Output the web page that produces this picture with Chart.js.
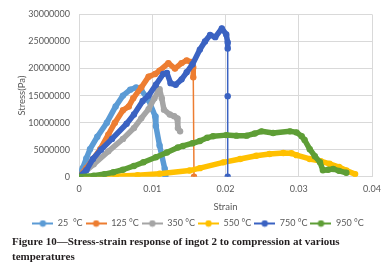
<!DOCTYPE html>
<html>
<head>
<meta charset="utf-8">
<script src="https://cdn.jsdelivr.net/npm/chart.js@4/dist/chart.umd.min.js"></script>
<style>
  html, body { margin: 0; padding: 0; background: #fff; }
  #wrap { position: relative; width: 392px; height: 274px; overflow: hidden; }
  #box { position: absolute; left: 0; top: 0; width: 392px; height: 238px; }
  #caption {
    position: absolute; left: 12px; top: 234px; width: 375px;
    font-family: "Liberation Serif", serif; font-weight: bold; font-size: 11px;
    line-height: 15px; color: #231f20;
  }
</style>
</head>
<body>
<div id="wrap">
  <div id="box"><canvas id="c"></canvas></div>
  <div id="caption">Figure 10—Stress-strain response of ingot 2 to compression at various temperatures</div>
</div>
<script>
// values (strain, stress in Pa)
const labels = ['25  \u00B0C', '125 \u00B0C', '350 \u00B0C', '550 \u00B0C', '750 \u00B0C', '950 \u00B0C'];
const colors = ['#5b9bd5', '#ed7d31', '#a5a5a5', '#ffc000', '#3a62c2', '#5e9e36'];

const strain25 = [0, 0.0005, 0.001, 0.0015, 0.0025, 0.0038, 0.005, 0.006, 0.007, 0.0078, 0.0085, 0.0095, 0.0104, 0.0105, 0.011, 0.0117, 0.0118];
const stress25 = [0, 1.6e6, 3.4e6, 5.1e6, 7.4e6, 10.0e6, 13.0e6, 15.0e6, 16.1e6, 16.5e6, 16.0e6, 14.2e6, 11.2e6, 9.4e6, 5.8e6, 1.5e6, 0];

const strain125 = [0, 0.001, 0.002, 0.0029, 0.004, 0.0049, 0.006, 0.0068, 0.0074, 0.0085, 0.0095, 0.0104, 0.011, 0.0122, 0.0131, 0.014, 0.0147, 0.0153, 0.0156, 0.0156, 0.0157];
const stress125 = [0, 1.6e6, 3.4e6, 5.1e6, 7.8e6, 10.0e6, 12.3e6, 13.0e6, 14.5e6, 16.5e6, 18.5e6, 19.0e6, 19.6e6, 21.0e6, 20.0e6, 21.0e6, 21.5e6, 21.2e6, 20.2e6, 18.4e6, 0];

const strain350 = [0, 0.002, 0.004, 0.006, 0.0075, 0.0085, 0.0095, 0.0103, 0.0108, 0.011, 0.0113, 0.0116, 0.0124, 0.013, 0.0134, 0.0135, 0.0138];
const stress350 = [0, 2.3e6, 4.7e6, 7.0e6, 9.0e6, 10.8e6, 12.5e6, 14.5e6, 15.8e6, 16.2e6, 14.5e6, 12.4e6, 11.5e6, 11.2e6, 10.8e6, 9.0e6, 8.4e6];

const strain550 = [0, 0.005, 0.008, 0.011, 0.0151, 0.0165, 0.0197, 0.022, 0.0242, 0.026, 0.0279, 0.029, 0.0297, 0.0315, 0.033, 0.0342, 0.0355, 0.0365, 0.0377];
const stress550 = [0, 0.1e6, 0.3e6, 0.55e6, 1.15e6, 1.6e6, 2.67e6, 3.3e6, 3.9e6, 4.2e6, 4.4e6, 4.35e6, 4.0e6, 3.3e6, 2.9e6, 2.4e6, 1.8e6, 1.15e6, 0.5e6];

const strain750 = [0, 0.001, 0.0019, 0.003, 0.0045, 0.0065, 0.0075, 0.0087, 0.0095, 0.0105, 0.0115, 0.012, 0.0125, 0.0132, 0.014, 0.0147, 0.0155, 0.0165, 0.0172, 0.0179, 0.0186, 0.0195, 0.0201, 0.0203, 0.0203, 0.0203, 0.0203];
const stress750 = [0, 1.2e6, 3.3e6, 5.0e6, 7.0e6, 9.8e6, 11.5e6, 14.0e6, 15.0e6, 17.0e6, 19.0e6, 19.2e6, 17.3e6, 17.0e6, 18.0e6, 19.3e6, 20.8e6, 23.5e6, 25.0e6, 26.2e6, 25.8e6, 27.4e6, 26.3e6, 24.8e6, 23.7e6, 14.9e6, 0];

const strain950 = [0, 0.002, 0.0035, 0.0047, 0.006, 0.0075, 0.0088, 0.0105, 0.012, 0.0135, 0.0142, 0.0155, 0.0165, 0.0175, 0.0183, 0.0201, 0.0215, 0.0229, 0.024, 0.0249, 0.0265, 0.0288, 0.0297, 0.0304, 0.0308, 0.0315, 0.0322, 0.0329, 0.0333, 0.034, 0.0347, 0.0355, 0.0365];
const stress950 = [0, 0.2e6, 0.5e6, 0.85e6, 1.3e6, 2.0e6, 2.7e6, 3.6e6, 4.5e6, 5.4e6, 5.7e6, 6.2e6, 6.6e6, 7.2e6, 7.5e6, 7.7e6, 7.6e6, 7.6e6, 8.0e6, 8.4e6, 8.1e6, 8.4e6, 8.2e6, 7.5e6, 6.8e6, 5.1e6, 3.8e6, 2.7e6, 1.2e6, 1.3e6, 1.45e6, 1.1e6, 0.75e6];

const xTicks = [0, 0.01, 0.02, 0.03, 0.04];

const series = [
  [strain25, stress25], [strain125, stress125], [strain350, stress350],
  [strain550, stress550], [strain750, stress750], [strain950, stress950]
];

// the near vertical drops are drawn thin, like the sparse points in the original
function isDrop(data, i) {
  const a = data[i], b = data[i + 1];
  if (!a || !b) return false;
  return Math.abs(b.x - a.x) < 0.0002 && Math.abs(b.y - a.y) > 3e6;
}

// legend marker: short line with a dot
function legendMark(color) {
  const c = document.createElement('canvas');
  c.width = 21; c.height = 8;
  const g = c.getContext('2d');
  g.strokeStyle = color; g.lineWidth = 2;
  g.beginPath(); g.moveTo(0, 4); g.lineTo(21, 4); g.stroke();
  g.fillStyle = color;
  g.beginPath(); g.arc(10.5, 4, 3.2, 0, Math.PI * 2); g.fill();
  return c;
}
const marks = colors.map(legendMark);

const datasets = series.map((s, i) => {
  const data = s[0].map((x, k) => ({ x: x, y: s[1][k] }));
  return {
    label: labels[i],
    data: data,
    borderColor: colors[i],
    backgroundColor: colors[i],
    pointBackgroundColor: colors[i],
    pointBorderWidth: 0,
    pointRadius: 3.2,
    pointStyle: 'circle',
    borderWidth: 5.5,
    order: -i,
    segment: {
      borderWidth: ctx => isDrop(data, ctx.p0DataIndex) ? 1.5 : 5.5
    }
  };
});

Chart.defaults.font.family = 'Lato, "Liberation Sans", sans-serif';
Chart.defaults.color = '#595959';

new Chart(document.getElementById('c'), {
  type: 'line',
  data: { datasets: datasets },
  options: {
    responsive: true,
    maintainAspectRatio: false,
    animation: false,
    layout: { padding: { left: 24, right: 20, top: 8, bottom: 0 } },
    elements: { line: { tension: 0, borderJoinStyle: 'round', borderCapStyle: 'round' } },
    scales: {
      x: {
        type: 'linear', min: 0, max: 0.04,
        afterBuildTicks: axis => { axis.ticks = xTicks.map(v => ({ value: v })); },
        ticks: { font: { size: 9 }, padding: 7, callback: v => String(Number(v.toFixed(2))) },
        grid: { color: '#d9d9d9', drawTicks: false },
        border: { color: '#d9d9d9' },
        title: { display: true, text: 'Strain', font: { size: 9.5 }, padding: { top: 0, bottom: 3 } }
      },
      y: {
        min: 0, max: 30000000,
        afterFit: axis => { axis.width = 55; },
        ticks: { stepSize: 5000000, font: { size: 9 }, padding: 9, callback: v => String(v) },
        grid: { color: '#d9d9d9', drawTicks: false },
        border: { display: false },
        title: { display: true, text: 'Stress(Pa)', font: { size: 9.5 }, padding: { top: -8, bottom: 2 } }
      }
    },
    plugins: {
      tooltip: { enabled: false },
      legend: {
        position: 'bottom',
        labels: {
          usePointStyle: true, pointStyleWidth: 21, boxHeight: 8,
          font: { size: 9 }, padding: 3, color: '#595959',
          generateLabels: chart => chart.data.datasets.map((d, i) => ({
            text: d.label, datasetIndex: i, pointStyle: marks[i],
            fillStyle: colors[i], strokeStyle: colors[i], lineWidth: 0,
            fontColor: '#595959', hidden: false
          }))
        }
      }
    }
  }
});
</script>
</body>
</html>
